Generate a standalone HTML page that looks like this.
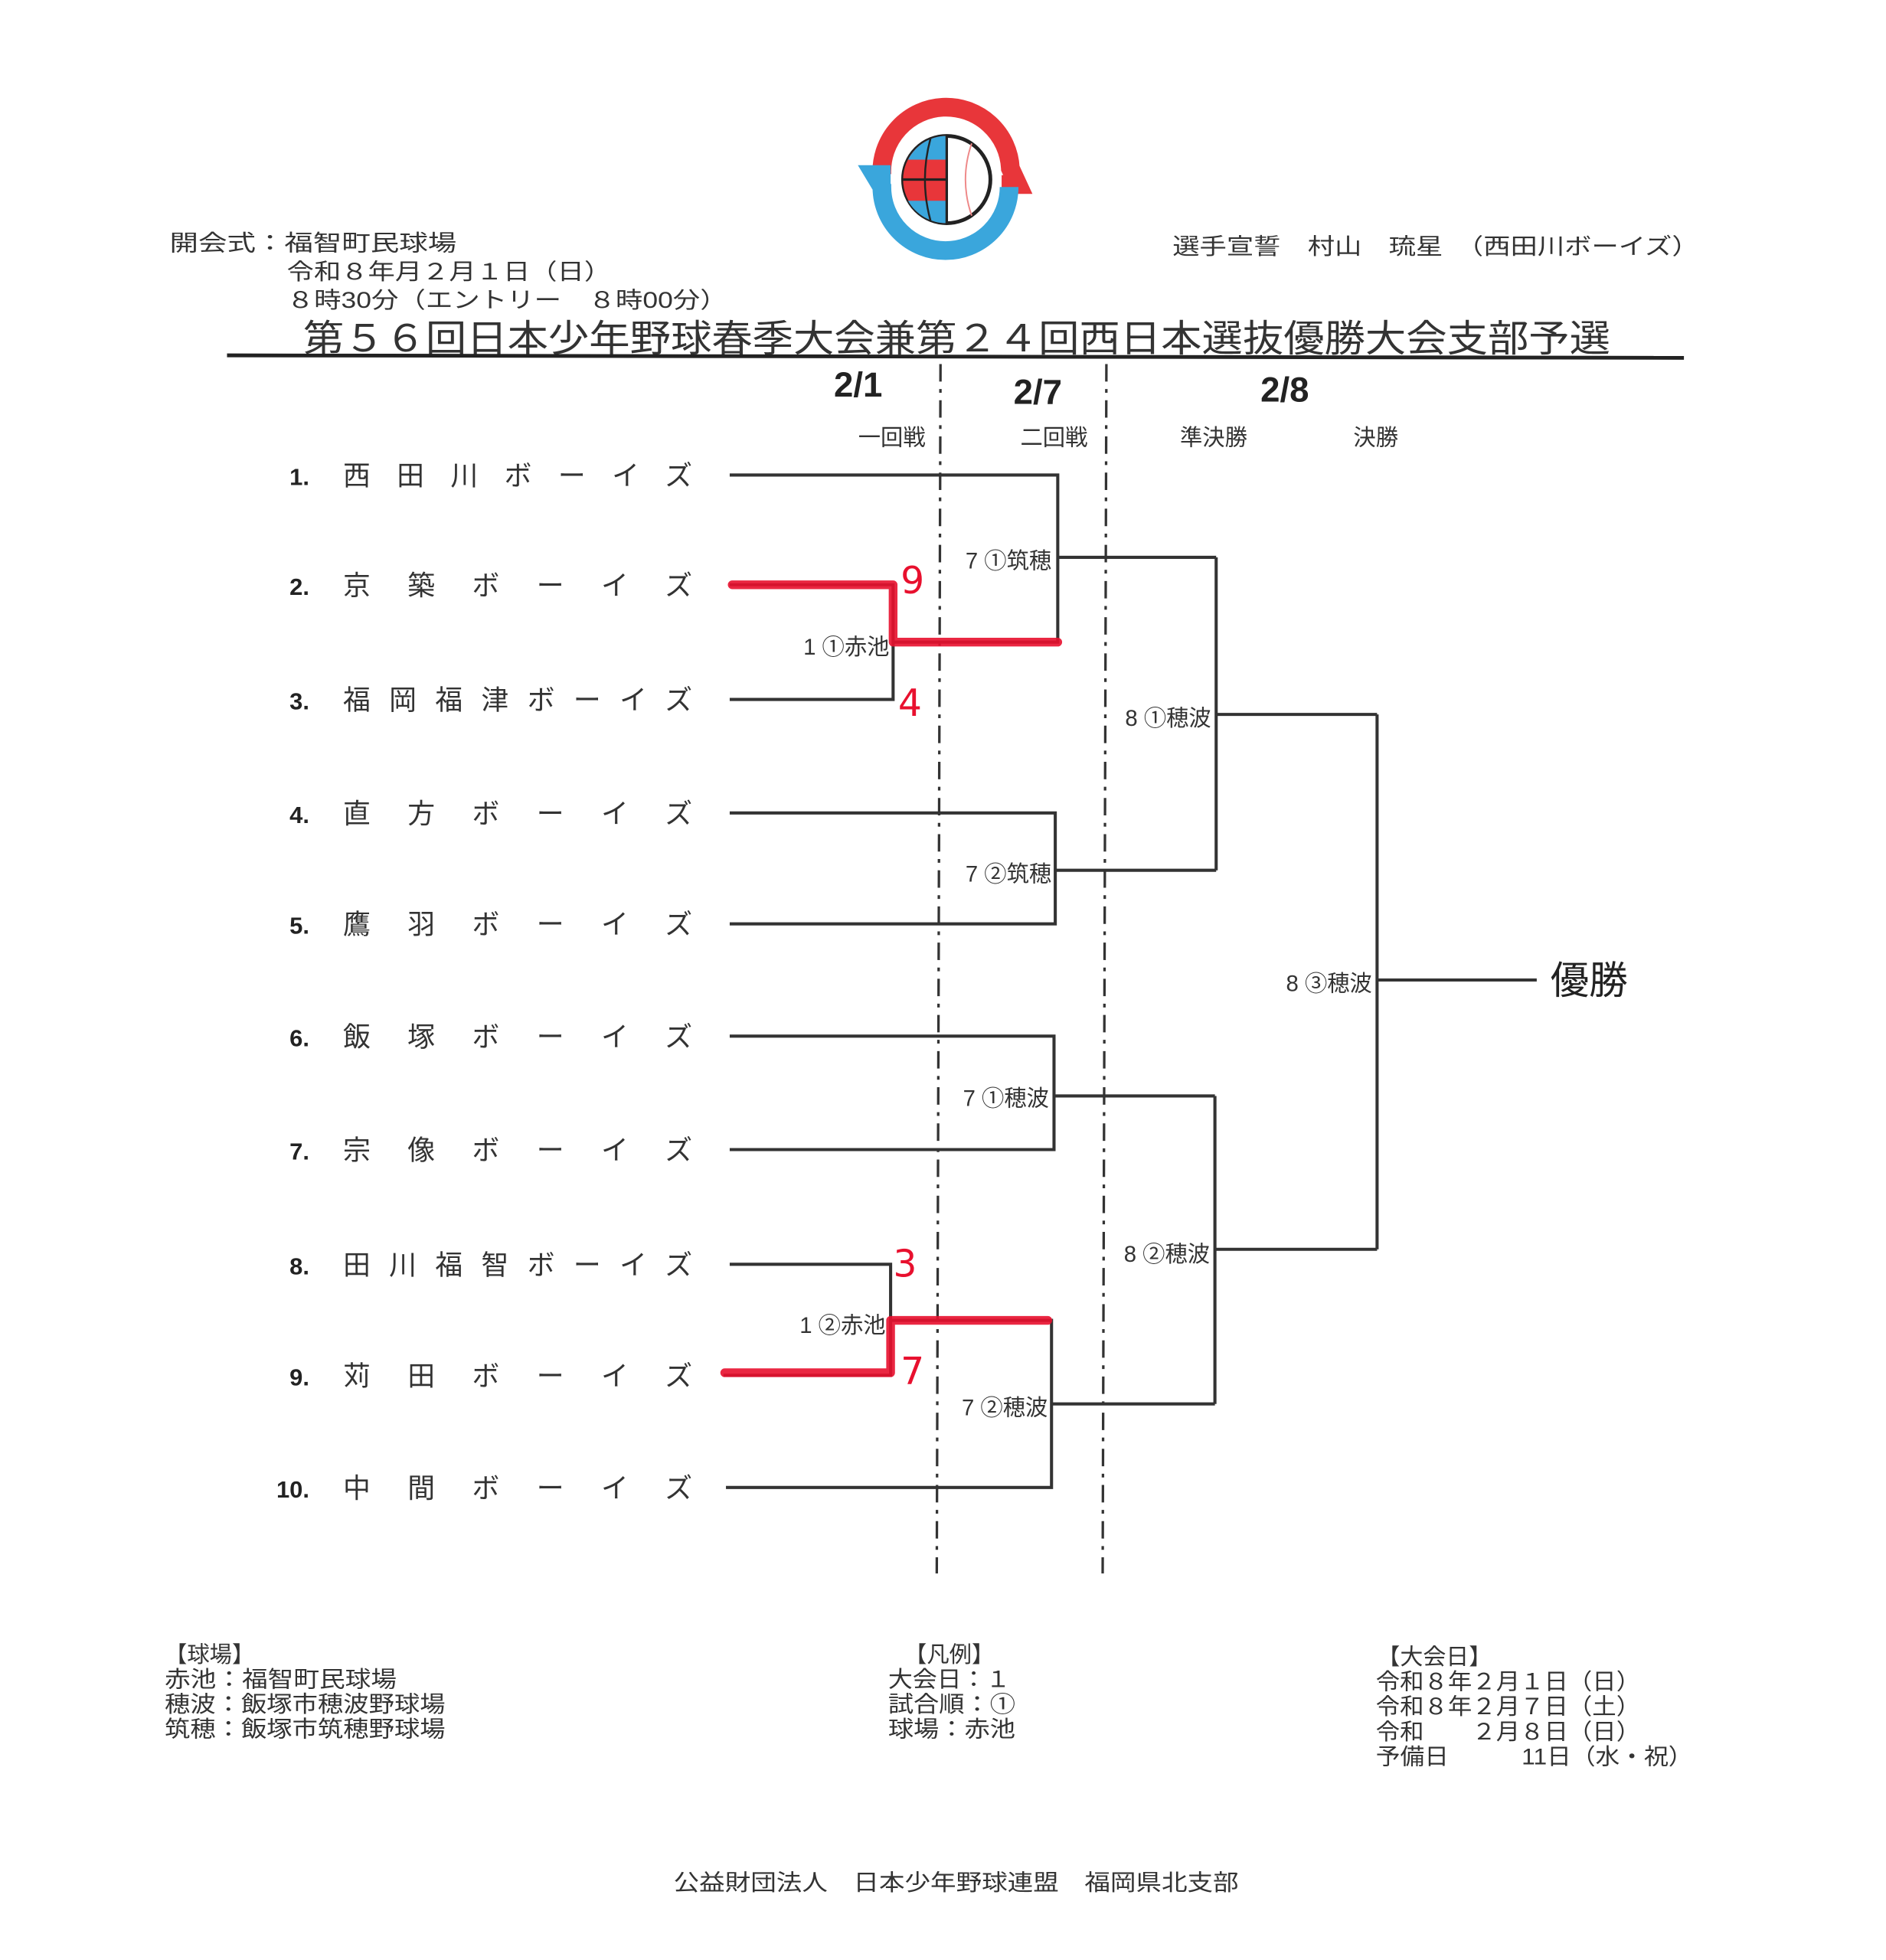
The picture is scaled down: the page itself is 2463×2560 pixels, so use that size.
<!DOCTYPE html>
<html><head><meta charset="utf-8">
<style>
html,body{margin:0;padding:0;background:#fff;}
svg{display:block;}
text{font-family:"Liberation Sans","Noto Sans CJK JP",sans-serif;fill:#333;}
.t{font-size:22px;}
.s{font-size:18px;}
.n{font-size:19px;font-weight:bold;fill:#222;}
.ln{stroke:#333;stroke-width:2.5;fill:none;}
.dash{stroke:#333;stroke-width:2;stroke-dasharray:14 6 3 6;fill:none;}
.red{stroke:#e8102e;stroke-width:7;fill:none;stroke-linecap:round;stroke-linejoin:round;opacity:.9}
.rn{font-size:30px;fill:#e8102e;font-family:"DejaVu Sans",sans-serif;}
</style></head>
<body>
<svg width="2463" height="2560" viewBox="0 0 1512 1572" preserveAspectRatio="none" xmlns="http://www.w3.org/2000/svg">
<rect width="1512" height="1572" fill="#fff"/>
<!-- logo -->
<g>
<path d="M707,140 A51,51 0 0 1 810,135 L816,148 L803,148" fill="none" stroke="#e8363a" stroke-width="15"/>
<path d="M809,150 A51,51 0 0 1 707,150 L701,140 L714,140" fill="none" stroke="#3aa6dc" stroke-width="15"/>
<circle cx="759" cy="144" r="35" fill="#fff" stroke="#222" stroke-width="3"/>
<path d="M759,109 A35,35 0 0 0 759,179 Z" fill="#e8363a"/>
<path d="M759,109 A35,35 0 0 0 728,128 L759,128 Z" fill="#3aa6dc"/>
<path d="M759,179 A35,35 0 0 1 728,161 L759,161 Z" fill="#3aa6dc"/>
<line x1="724" y1="144" x2="759" y2="144" stroke="#222" stroke-width="2"/>
<line x1="759" y1="109" x2="759" y2="179" stroke="#222" stroke-width="2"/>
<path d="M746,111 Q737,144 746,177" fill="none" stroke="#222" stroke-width="1.5"/>
<path d="M779,115 Q769,144 779,173" fill="none" stroke="#e88" stroke-width="1.2"/>
</g>
<!-- header -->
<text class="s" x="136" y="201" textLength="230" lengthAdjust="spacingAndGlyphs">開会式：福智町民球場</text>
<text class="s" x="230" y="224" textLength="260" lengthAdjust="spacingAndGlyphs">令和８年月２月１日（日）</text>
<text class="s" x="230" y="247" textLength="353" lengthAdjust="spacingAndGlyphs">８時30分（エントリー　８時00分）</text>
<text class="s" x="940" y="204" textLength="422" lengthAdjust="spacingAndGlyphs">選手宣誓　村山　琉星　（西田川ボーイズ）</text>
<text x="243" y="282" textLength="1048" lengthAdjust="spacingAndGlyphs" style="font-size:30px">第５６回日本少年野球春季大会兼第２４回西日本選抜優勝大会支部予選</text>
<line x1="182" y1="285" x2="1350" y2="287" stroke="#222" stroke-width="3"/>
<text x="688" y="318" text-anchor="middle" style="font-size:28px;font-weight:bold;fill:#222">2/1</text>
<text x="832" y="324" text-anchor="middle" style="font-size:28px;font-weight:bold;fill:#222">2/7</text>
<text x="1030" y="322" text-anchor="middle" style="font-size:28px;font-weight:bold;fill:#222">2/8</text>
<text class="s" x="688" y="357">一回戦</text>
<text class="s" x="818" y="357">二回戦</text>
<text class="s" x="946" y="357">準決勝</text>
<text class="s" x="1085" y="357">決勝</text>
<line class="dash" x1="754" y1="292" x2="751" y2="1262"/>
<line class="dash" x1="887" y1="292" x2="884" y2="1262"/>
<!-- teams -->
<g>
<text class="n" x="248" y="389" text-anchor="end">1.</text><text class="t" x="275" y="389" textLength="280" lengthAdjust="spacing">西田川ボーイズ</text>
<text class="n" x="248" y="477" text-anchor="end">2.</text><text class="t" x="275" y="477" textLength="280" lengthAdjust="spacing">京築ボーイズ</text>
<text class="n" x="248" y="569" text-anchor="end">3.</text><text class="t" x="275" y="569" textLength="280" lengthAdjust="spacing">福岡福津ボーイズ</text>
<text class="n" x="248" y="660" text-anchor="end">4.</text><text class="t" x="275" y="660" textLength="280" lengthAdjust="spacing">直方ボーイズ</text>
<text class="n" x="248" y="749" text-anchor="end">5.</text><text class="t" x="275" y="749" textLength="280" lengthAdjust="spacing">鷹羽ボーイズ</text>
<text class="n" x="248" y="839" text-anchor="end">6.</text><text class="t" x="275" y="839" textLength="280" lengthAdjust="spacing">飯塚ボーイズ</text>
<text class="n" x="248" y="930" text-anchor="end">7.</text><text class="t" x="275" y="930" textLength="280" lengthAdjust="spacing">宗像ボーイズ</text>
<text class="n" x="248" y="1022" text-anchor="end">8.</text><text class="t" x="275" y="1022" textLength="280" lengthAdjust="spacing">田川福智ボーイズ</text>
<text class="n" x="248" y="1111" text-anchor="end">9.</text><text class="t" x="275" y="1111" textLength="280" lengthAdjust="spacing">苅田ボーイズ</text>
<text class="n" x="248" y="1201" text-anchor="end">10.</text><text class="t" x="275" y="1201" textLength="280" lengthAdjust="spacing">中間ボーイズ</text>
</g>
<!-- bracket -->
<path class="ln" d="M585,381 H848 V515 H716 M585,469 H716 V561 H585 M848,447 H975 M585,652 H846 V741 H585 M846,698 H975 M975,447 V698 M975,573 H1104
M585,831 H845 V922 H585 M845,879 H974 M585,1014 H714 V1103 H580 M714,1059 H843 V1193 H582 M843,1126 H974 M974,879 V1126 M974,1002 H1104 M1104,573 V1002 M1104,786 H1232"/>
<path class="red" d="M587,469 H716 V515 H848"/>
<path class="red" d="M581,1101 H714 V1059 H840"/>
<text class="rn" x="722" y="476">9</text>
<text class="rn" x="720" y="574">4</text>
<text class="rn" x="716" y="1024">3</text>
<text class="rn" x="722" y="1110">7</text>
<!-- match labels -->
<g>
<text class="s" x="843" y="456" text-anchor="end">7 ①筑穂</text>
<text class="s" x="713" y="525" text-anchor="end">1 ①赤池</text>
<text class="s" x="971" y="582" text-anchor="end">8 ①穂波</text>
<text class="s" x="843" y="707" text-anchor="end">7 ②筑穂</text>
<text class="s" x="841" y="887" text-anchor="end">7 ①穂波</text>
<text class="s" x="970" y="1012" text-anchor="end">8 ②穂波</text>
<text class="s" x="710" y="1069" text-anchor="end">1 ②赤池</text>
<text class="s" x="840" y="1135" text-anchor="end">7 ②穂波</text>
<text class="s" x="1100" y="795" text-anchor="end">8 ③穂波</text>
</g>
<text x="1243" y="797" style="font-size:31px;fill:#222">優勝</text>
<!-- footer -->
<text class="s" x="132" y="1333" textLength="72" lengthAdjust="spacingAndGlyphs">【球場】</text>
<text class="s" x="132" y="1353" textLength="186" lengthAdjust="spacingAndGlyphs">赤池：福智町民球場</text>
<text class="s" x="132" y="1373" textLength="225" lengthAdjust="spacingAndGlyphs">穂波：飯塚市穂波野球場</text>
<text class="s" x="132" y="1393" textLength="225" lengthAdjust="spacingAndGlyphs">筑穂：飯塚市筑穂野球場</text>
<text class="s" x="725" y="1333" textLength="72" lengthAdjust="spacingAndGlyphs">【凡例】</text>
<text class="s" x="712" y="1353" textLength="98" lengthAdjust="spacingAndGlyphs">大会日：１</text>
<text class="s" x="712" y="1373" textLength="102" lengthAdjust="spacingAndGlyphs">試合順：①</text>
<text class="s" x="712" y="1393" textLength="102" lengthAdjust="spacingAndGlyphs">球場：赤池</text>
<text class="s" x="1104" y="1335" textLength="92" lengthAdjust="spacingAndGlyphs">【大会日】</text>
<text class="s" x="1103" y="1355" textLength="212" lengthAdjust="spacingAndGlyphs">令和８年２月１日（日）</text>
<text class="s" x="1103" y="1375" textLength="212" lengthAdjust="spacingAndGlyphs">令和８年２月７日（土）</text>
<text class="s" x="1103" y="1395" textLength="212" lengthAdjust="spacingAndGlyphs">令和　　２月８日（日）</text>
<text class="s" x="1103" y="1415" textLength="254" lengthAdjust="spacingAndGlyphs">予備日　　　11日（水・祝）</text>
<text class="s" x="540" y="1516" textLength="453" lengthAdjust="spacingAndGlyphs">公益財団法人　日本少年野球連盟　福岡県北支部</text>
</svg>
</body></html>
